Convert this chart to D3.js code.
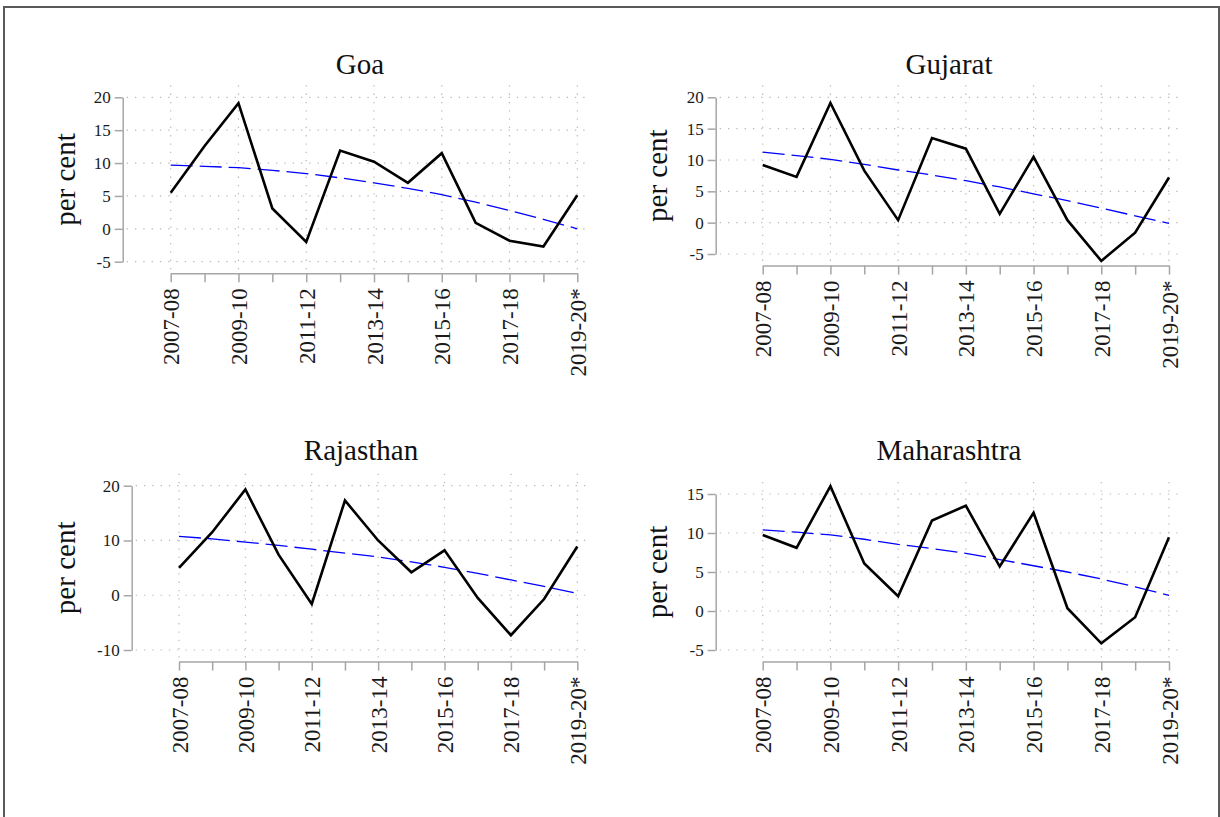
<!DOCTYPE html>
<html>
<head>
<meta charset="utf-8">
<script src="https://cdn.jsdelivr.net/npm/d3@7"></script>
<style>
  html, body { margin: 0; padding: 0; background: #fff; }
  svg { display: block; }
  svg text { font-family: "Liberation Serif", "Times New Roman", serif; }
</style>
</head>
<body>
<svg id="chart" width="1220" height="817"></svg>
<script>
// Fiscal years on the x axis
const years = ["2007-08","2008-09","2009-10","2010-11","2011-12","2012-13","2013-14",
               "2014-15","2015-16","2016-17","2017-18","2018-19","2019-20*"];
const yearLabels = ["2007-08","2009-10","2011-12","2013-14","2015-16","2017-18","2019-20*"];

// Annual growth, per cent
const goa         = [5.5, 12.6, 19.1, 3.1, -2.0, 11.9, 10.2, 7.0, 11.5, 0.9, -1.8, -2.7, 5.1];
const gujarat     = [9.2, 7.3, 19.1, 8.3, 0.4, 13.5, 11.8, 1.4, 10.5, 0.4, -6.1, -1.6, 7.2];
const rajasthan   = [5.0, 11.5, 19.3, 7.4, -1.6, 17.3, 10.0, 4.2, 8.2, -0.5, -7.3, -0.7, 8.9];
const maharashtra = [9.75, 8.1, 16.0, 6.1, 1.9, 11.6, 13.5, 5.7, 12.6, 0.35, -4.15, -0.8, 9.45];

// Fitted trend values
const goaTrend         = [9.7, 9.5, 9.3, 8.9, 8.4, 7.75, 7.0, 6.15, 5.2, 4.05, 2.8, 1.45, 0.0];
const gujaratTrend     = [11.25, 10.7, 10.1, 9.3, 8.4, 7.6, 6.7, 5.7, 4.6, 3.5, 2.3, 1.1, -0.1];
const rajasthanTrend   = [10.75, 10.3, 9.7, 9.1, 8.4, 7.7, 7.0, 6.1, 5.1, 4.0, 2.8, 1.6, 0.35];
const maharashtraTrend = [10.4, 10.1, 9.75, 9.2, 8.55, 8.0, 7.4, 6.6, 5.8, 5.0, 4.1, 3.1, 2.0];

// Y tick values per panel
const goaTicks         = [-5, 0, 5, 10, 15, 20];
const gujaratTicks     = [-5, 0, 5, 10, 15, 20];
const rajasthanTicks   = [-10, 0, 10, 20];
const maharashtraTicks = [-5, 0, 5, 10, 15];

const panels = [
  { title: "Goa",         values: goa,         trend: goaTrend,         ticks: goaTicks,
    axisX: 122.7, x0: 170.7, x1: 577.3, yBot: 261.7, yTop: 97.3, titleX: 360, titleY: 74, labelX: 75 },
  { title: "Gujarat",     values: gujarat,     trend: gujaratTrend,     ticks: gujaratTicks,
    axisX: 715.7, x0: 762.7, x1: 1169, yBot: 254, yTop: 97.3, titleX: 949, titleY: 74, labelX: 667 },
  { title: "Rajasthan",   values: rajasthan,   trend: rajasthanTrend,   ticks: rajasthanTicks,
    axisX: 131.7, x0: 179, x1: 577.3, yBot: 650, yTop: 485.7, titleX: 361, titleY: 460, labelX: 75 },
  { title: "Maharashtra", values: maharashtra, trend: maharashtraTrend, ticks: maharashtraTicks,
    axisX: 715.7, x0: 762.7, x1: 1169, yBot: 650, yTop: 494, titleX: 949, titleY: 460, labelX: 667 }
];

const svg = d3.select("#chart");

// outer frame
svg.append("rect")
  .attr("x", 4).attr("y", 7).attr("width", 1215).attr("height", 840)
  .attr("fill", "none").attr("stroke", "#5a5a5a").attr("stroke-width", 2);

panels.forEach(p => {
  const g = svg.append("g");
  const tMin = d3.min(p.ticks), tMax = d3.max(p.ticks);

  const x = d3.scalePoint().domain(years).range([p.x0, p.x1]);
  const y = d3.scaleLinear().domain([tMin, tMax]).range([p.yBot, p.yTop]);

  const gridLeft = p.axisX + 4, gridRight = p.x1 + 10;
  const gridTop = p.yTop - 12, gridBot = p.yBot + 7.5;

  // dotted grid
  g.append("g").selectAll("line").data(p.ticks).join("line")
    .attr("x1", gridLeft).attr("x2", gridRight)
    .attr("y1", d => y(d)).attr("y2", d => y(d))
    .attr("stroke", "#b8b8b8").attr("stroke-width", 1.2)
    .attr("stroke-dasharray", "1.3,7");
  g.append("g").selectAll("line").data(yearLabels).join("line")
    .attr("x1", d => x(d)).attr("x2", d => x(d))
    .attr("y1", gridTop).attr("y2", gridBot)
    .attr("stroke", "#b8b8b8").attr("stroke-width", 1.2)
    .attr("stroke-dasharray", "1.3,7");

  // y axis
  const yAxis = g.append("g")
    .attr("transform", `translate(${p.axisX},0)`)
    .call(d3.axisLeft(y).tickValues(p.ticks).tickSize(8).tickSizeOuter(0).tickPadding(4)
      .tickFormat(d => d < 0 ? "-" + Math.abs(d) : String(d)));
  yAxis.attr("font-family", null);
  yAxis.select(".domain").attr("stroke", "#a6a6a6").attr("stroke-width", 1.5);
  yAxis.selectAll(".tick line").attr("stroke", "#a6a6a6").attr("stroke-width", 1.5);
  yAxis.selectAll(".tick text")
    .style("font-family", "'Liberation Serif', 'Times New Roman', serif")
    .style("font-size", "17px").attr("fill", "#1a1a1a");

  // x axis
  const axisY = p.yBot + 11.6;
  const xAxis = g.append("g")
    .attr("transform", `translate(0,${axisY})`)
    .call(d3.axisBottom(x).tickValues(years).tickSize(9).tickSizeOuter(0)
      .tickFormat(d => yearLabels.includes(d) ? d : ""));
  xAxis.attr("font-family", null);
  xAxis.select(".domain").attr("stroke", "#a6a6a6").attr("stroke-width", 1.5);
  xAxis.selectAll(".tick line").attr("stroke", "#a6a6a6").attr("stroke-width", 1.5);
  xAxis.selectAll(".tick text")
    .style("font-family", "'Liberation Serif', 'Times New Roman', serif")
    .style("font-size", "23px").attr("fill", "#1a1a1a")
    .attr("text-anchor", "end")
    .attr("transform", "rotate(-90)")
    .attr("x", -15).attr("y", 0).attr("dy", "0.35em");

  // trend line
  const line = d3.line().x((d, i) => x(years[i])).y(d => y(d));
  g.append("path").datum(p.trend)
    .attr("d", line).attr("fill", "none")
    .attr("stroke", "#0000ff").attr("stroke-width", 1.3)
    .attr("stroke-dasharray", "22,7");

  // series line
  g.append("path").datum(p.values)
    .attr("d", line).attr("fill", "none")
    .attr("stroke", "#000").attr("stroke-width", 2.6)
    .attr("stroke-linejoin", "miter");

  // title
  g.append("text")
    .attr("x", p.titleX).attr("y", p.titleY)
    .attr("text-anchor", "middle")
    .style("font-size", "29px").attr("fill", "#111")
    .text(p.title);

  // y label
  const cy = (p.yTop + p.yBot) / 2;
  g.append("text")
    .attr("transform", `translate(${p.labelX},${cy}) rotate(-90)`)
    .attr("text-anchor", "middle")
    .style("font-size", "29px").attr("fill", "#111")
    .text("per cent");
});
</script>
</body>
</html>
